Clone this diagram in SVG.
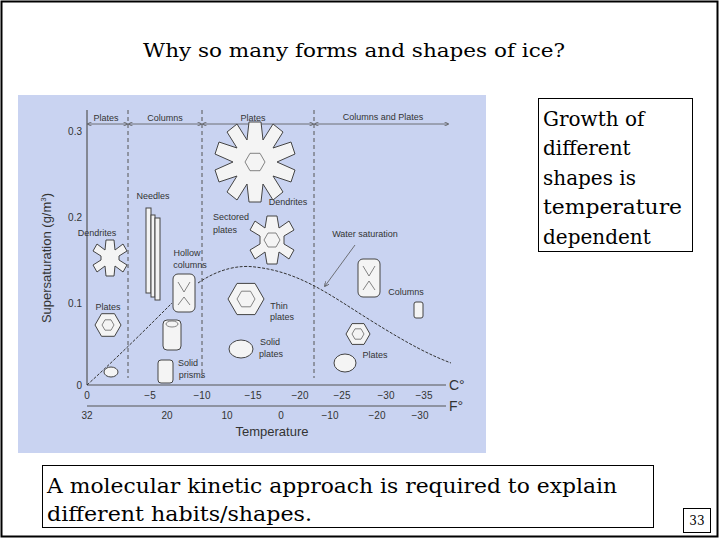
<svg xmlns="http://www.w3.org/2000/svg" width="720" height="540" viewBox="0 0 720 540">
<style>
.s{font-family:"DejaVu Serif","Liberation Serif",serif;fill:#000}
.c{font-family:"Liberation Sans",Arial,sans-serif;fill:#333}
.ax{stroke:#555;stroke-width:1.2;fill:none}
.dv{stroke:#555;stroke-width:1;stroke-dasharray:4,3;fill:none}
.ice{fill:#f4f4f4;stroke:#444;stroke-width:1}
.in{fill:none;stroke:#666;stroke-width:0.8}
</style>
<defs>
<marker id="a" markerWidth="6" markerHeight="6" refX="5" refY="3" orient="auto"><path d="M0,0L6,3L0,6" fill="none" stroke="#555"/></marker>
<marker id="b" markerWidth="6" markerHeight="6" refX="1" refY="3" orient="auto"><path d="M6,0L0,3L6,6" fill="none" stroke="#555"/></marker>
</defs>
<rect x="1.5" y="1.5" width="716" height="535" fill="#fff" stroke="#000" stroke-width="2"/>
<text class="s" x="354" y="57" font-size="19" text-anchor="middle" textLength="422" lengthAdjust="spacingAndGlyphs">Why so many forms and shapes of ice?</text>
<g id="chart">
<rect x="18" y="95" width="468" height="358" fill="#c9d3f1"/>
<line class="ax" x1="87" y1="110" x2="87" y2="385" stroke-width="2"/>
<line class="ax" x1="87" y1="385" x2="446" y2="385"/>
<line class="ax" x1="87" y1="406" x2="446" y2="406"/>
<line class="dv" x1="128" y1="110" x2="128" y2="378"/>
<line class="dv" x1="202" y1="110" x2="202" y2="378"/>
<line class="dv" x1="314" y1="110" x2="314" y2="378"/>
<g stroke="#555" fill="none" stroke-width="0.8">
<line x1="88" y1="124" x2="127" y2="124" marker-start="url(#b)" marker-end="url(#a)"/>
<line x1="129" y1="124" x2="201" y2="124" marker-start="url(#b)" marker-end="url(#a)"/>
<line x1="203" y1="124" x2="313" y2="124" marker-start="url(#b)" marker-end="url(#a)"/>
<line x1="315" y1="124" x2="448" y2="124" marker-start="url(#b)" marker-end="url(#a)"/>
</g>
<g class="c" font-size="9" text-anchor="middle">
<text x="106" y="121">Plates</text><text x="165" y="121">Columns</text><text x="253" y="121">Plates</text><text x="383" y="120">Columns and Plates</text>
</g>
<g class="c" font-size="10" text-anchor="end">
<text x="82" y="135">0.3</text><text x="82" y="221">0.2</text><text x="82" y="307">0.1</text><text x="82" y="389">0</text>
</g>
<text class="c" font-size="13" transform="translate(51,258) rotate(-90)" text-anchor="middle">Supersaturation (g/m<tspan font-size="8" dy="-5">3</tspan><tspan dy="5">)</tspan></text>
<g class="c" font-size="10" text-anchor="middle">
<text x="87" y="399">0</text><text x="150" y="399">−5</text><text x="202" y="399">−10</text><text x="253" y="399">−15</text><text x="300" y="399">−20</text><text x="342" y="399">−25</text><text x="386" y="399">−30</text><text x="424" y="399">−35</text>
<text x="87" y="419">32</text><text x="167" y="419">20</text><text x="227" y="419">10</text><text x="281" y="419">0</text><text x="330" y="419">−10</text><text x="377" y="419">−20</text><text x="420" y="419">−30</text>
</g>
<text class="c" font-size="14" x="449" y="390">C°</text>
<text class="c" font-size="14" x="449" y="411">F°</text>
<text class="c" font-size="13" x="272" y="436" text-anchor="middle">Temperature</text>
<path d="M87,385 C120,355 150,325 172,303 M198,283 C220,268 240,265 255,267 C300,272 330,295 370,320 C410,345 430,355 451,363" stroke="#333" stroke-width="1" fill="none" stroke-dasharray="3,1.5"/>
<line x1="355" y1="245" x2="325" y2="286" stroke="#555" stroke-width="0.8" marker-end="url(#a)"/>
<g class="c" font-size="9" text-anchor="middle">
<text x="365" y="237">Water saturation</text>
<text x="153" y="199">Needles</text>
<text x="288" y="205">Dendrites</text>
<text x="231" y="220">Sectored</text><text x="225" y="233">plates</text>
<text x="97" y="236">Dendrites</text>
<text x="187" y="256">Hollow</text><text x="190" y="268">columns</text>
<text x="108" y="310">Plates</text>
<text x="279" y="309">Thin</text><text x="282" y="320">plates</text>
<text x="270" y="345">Solid</text><text x="271" y="357">plates</text>
<text x="188" y="366">Solid</text><text x="192" y="378">prisms</text>
<text x="406" y="295">Columns</text>
<text x="375" y="358">Plates</text>
</g>
<g id="crystals">
<g transform="translate(255,162)">
<path class="ice" d="M-6,-40 L6,-40 L8,-22 L18,-38 L28,-30 L18,-14 L36,-20 L40,-8 L22,0 L40,8 L36,20 L18,14 L28,30 L18,38 L8,22 L6,40 L-6,40 L-8,22 L-18,38 L-28,30 L-18,14 L-36,20 L-40,8 L-22,0 L-40,-8 L-36,-20 L-18,-14 L-28,-30 L-18,-38 L-8,-22Z"/>
<polygon class="in" points="10,0 5,8.7 -5,8.7 -10,0 -5,-8.7 5,-8.7"/>
</g>
<g transform="translate(272,240)">
<path class="ice" d="M-5,-24 L5,-24 L7,-12 L17,-19 L22,-10 L12,-4 L12,4 L22,10 L17,19 L7,12 L5,24 L-5,24 L-7,12 L-17,19 L-22,10 L-12,4 L-12,-4 L-22,-10 L-17,-19 L-7,-12Z"/>
<polygon class="in" points="8,0 4,7 -4,7 -8,0 -4,-7 4,-7"/>
</g>
<g transform="translate(110,258)">
<path class="ice" d="M-4,-18 L4,-18 L5,-8 L13,-14 L17,-7 L9,-2 L9,2 L17,7 L13,14 L5,8 L4,18 L-4,18 L-5,8 L-13,14 L-17,7 L-9,2 L-9,-2 L-17,-7 L-13,-14 L-5,-8Z"/>
</g>
<g transform="translate(108,325)"><polygon class="ice" points="13,0 6.5,11.3 -6.5,11.3 -13,0 -6.5,-11.3 6.5,-11.3"/><polygon class="in" points="6,0 3,5.2 -3,5.2 -6,0 -3,-5.2 3,-5.2"/></g>
<g transform="translate(246,299)"><polygon class="ice" points="18,0 9,15.6 -9,15.6 -18,0 -9,-15.6 9,-15.6"/><polygon class="in" points="9,0 4.5,7.8 -4.5,7.8 -9,0 -4.5,-7.8 4.5,-7.8"/></g>
<g transform="translate(358,334)"><polygon class="ice" points="12,0 6,10.4 -6,10.4 -12,0 -6,-10.4 6,-10.4"/><polygon class="in" points="6,0 3,5.2 -3,5.2 -6,0 -3,-5.2 3,-5.2"/></g>
<ellipse class="ice" cx="241" cy="349" rx="12" ry="9"/>
<ellipse class="ice" cx="345" cy="363" rx="11" ry="9"/>
<ellipse class="ice" cx="111" cy="372" rx="7" ry="5"/>
<rect class="ice" x="173" y="274" width="22" height="38" rx="5"/>
<path class="in" d="M178,282 L184,292 L190,282 M178,305 L184,297 L190,305"/>
<rect class="ice" x="163" y="320" width="18" height="30" rx="4"/>
<ellipse class="in" cx="172" cy="324" rx="6" ry="3"/>
<rect class="ice" x="158" y="360" width="15" height="23" rx="3"/>
<rect class="ice" x="358" y="259" width="22" height="38" rx="5"/>
<path class="in" d="M363,266 L369,276 L375,266 M363,290 L369,281 L375,290"/>
<rect class="ice" x="414" y="302" width="9" height="16" rx="2"/>
<rect class="ice" x="146" y="208" width="5" height="85"/>
<rect class="ice" x="151" y="215" width="4" height="82"/>
<rect class="ice" x="155" y="218" width="5" height="82"/>
</g>
</g>
<g id="note">
<rect x="538.5" y="98.5" width="154" height="153" fill="#fff" stroke="#000"/>
<g class="s" font-size="20">
<text x="543" y="126">Growth of</text><text x="543" y="155">different</text><text x="543" y="185">shapes is</text><text x="543" y="214" textLength="139" lengthAdjust="spacingAndGlyphs">temperature</text><text x="543" y="244">dependent</text>
</g>
</g>
<g id="bottom">
<rect x="42.5" y="465.5" width="611" height="62" fill="#fff" stroke="#000"/>
<text class="s" font-size="20" x="47" y="493" textLength="570" lengthAdjust="spacingAndGlyphs">A molecular kinetic approach is required to explain</text>
<text class="s" font-size="20" x="47" y="521" textLength="265" lengthAdjust="spacingAndGlyphs">different habits/shapes.</text>
</g>
<g id="page">
<rect x="683.5" y="508.5" width="27" height="24" fill="#fff" stroke="#000"/>
<text class="s" font-size="12" x="697" y="525" text-anchor="middle">33</text>
</g>
</svg>
